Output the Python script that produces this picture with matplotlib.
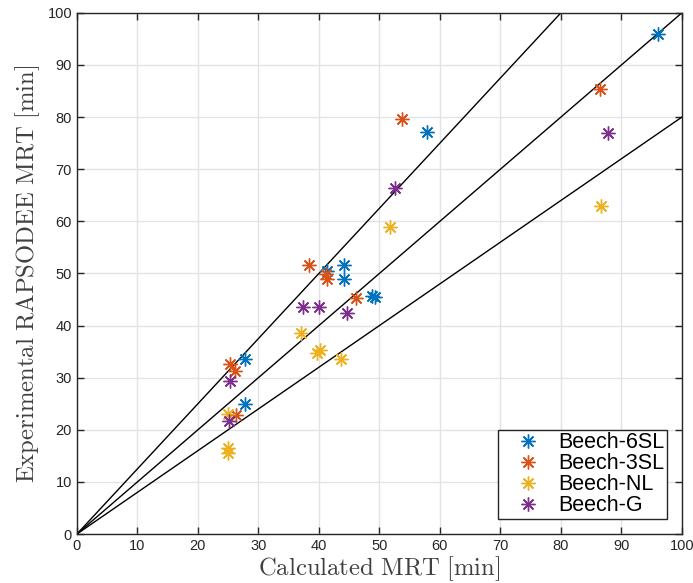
import matplotlib
matplotlib.use("Agg")
import matplotlib.pyplot as plt

plt.rcParams['mathtext.fontset'] = 'cm'
plt.rcParams['font.family'] = ['Liberation Sans', 'DejaVu Sans']

series_names = ["Beech-6SL", "Beech-3SL", "Beech-NL", "Beech-G"]
colors = ["#0072BD", "#D95319", "#EDB120", "#7E2F8E"]

x_6sl = [96.0, 57.8, 27.8, 27.8, 44.1, 44.1, 41.3, 48.7, 49.3]
y_6sl = [96.0, 77.2, 33.5, 24.9, 51.6, 49.0, 50.5, 45.7, 45.4]
x_3sl = [86.5, 53.7, 38.4, 41.1, 41.4, 46.2, 25.3, 26.1, 26.3]
y_3sl = [85.3, 79.6, 51.6, 49.9, 49.0, 45.3, 32.6, 31.3, 22.8]
x_nl = [86.7, 51.8, 37.0, 39.7, 40.1, 43.7, 25.0, 25.0, 25.0]
y_nl = [62.9, 59.0, 38.6, 34.8, 35.3, 33.5, 23.1, 16.6, 15.5]
x_g = [87.8, 52.6, 37.4, 40.0, 44.7, 25.3, 25.2]
y_g = [76.9, 66.4, 43.5, 43.5, 42.5, 29.3, 21.6]

slopes = [1.25, 1.0, 0.8]
ticks = list(range(0, 101, 10))

fig = plt.figure(figsize=(6.93, 5.83), dpi=100)
ax = fig.add_axes([0.111, 0.084, 0.873, 0.894])

for s in slopes:
    xe = min(100, 100 / s)
    ax.plot([0, xe], [0, s * xe], color='black', lw=1.0, zorder=2)

asterisk = (8, 2, 0)
for xs, ys, c, n in zip([x_6sl, x_3sl, x_nl, x_g], [y_6sl, y_3sl, y_nl, y_g], colors, series_names):
    ax.plot(xs, ys, linestyle='none', marker=asterisk, markersize=10,
            markeredgewidth=1.0, color=c, label=n, zorder=3)

ax.set_xlim(0, 100)
ax.set_ylim(0, 100)
ax.set_xticks(ticks)
ax.set_yticks(ticks)
ax.grid(True, color='#e3e3e3', lw=1.0, zorder=0)
ax.set_axisbelow(True)
ax.tick_params(direction='in', top=True, right=True, labelsize=10.5, length=5, width=1, colors='#262626')
for sp in ax.spines.values():
    sp.set_color('#262626')
    sp.set_linewidth(1.0)

ax.set_xlabel(r'$\mathrm{Calculated\ MRT\ [min]}$', fontsize=17.8, color='#404040', labelpad=1)
ax.set_ylabel(r'$\mathrm{Experimental\ RAPSODEE\ MRT\ [min]}$', fontsize=17.8, color='#404040', labelpad=4)

leg = ax.legend(loc='lower right', fontsize=15.5, frameon=True, fancybox=False,
                edgecolor='#262626', framealpha=1, borderpad=0.12, handletextpad=0.1,
                labelspacing=0.0, borderaxespad=0.7, handlelength=2.55)
leg.get_frame().set_linewidth(1.0)

fig.savefig('out.png', dpi=100)
